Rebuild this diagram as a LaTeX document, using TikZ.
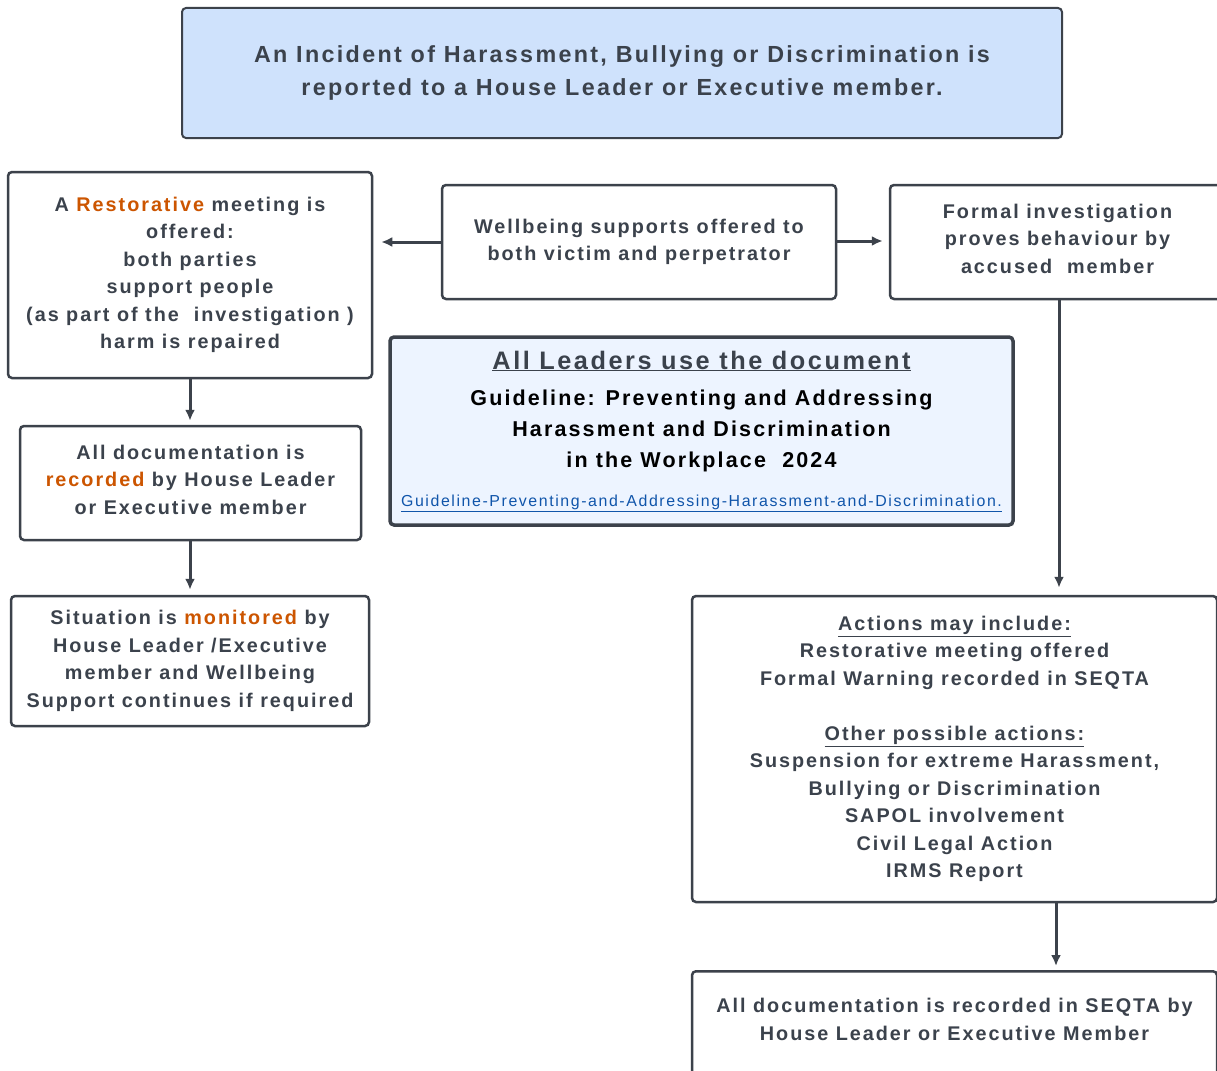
\documentclass[tikz,border=0pt]{standalone}
\usepackage{fontspec}
\setmainfont[LetterSpace=10]{Liberation Sans}
\usetikzlibrary{arrows.meta}
\definecolor{txt}{RGB}{59,66,76}
\definecolor{brd}{RGB}{60,66,75}
\definecolor{org}{RGB}{204,85,0}
\definecolor{topfill}{RGB}{207,226,252}
\definecolor{guidefill}{RGB}{237,244,255}
\definecolor{lnk}{RGB}{16,85,170}
\newcommand{\fs}[2]{\fontsize{#1}{#2}\selectfont}
\tikzset{
  box/.style={draw=brd, line width=2.5pt, rounded corners=4pt, fill=white, align=center,
    text=txt, font=\bfseries\fs{19.8}{27.5}, inner sep=2pt},
  conn/.style={draw=brd, line width=3pt, -{Latex[length=11pt,width=10pt]}},
}
\begin{document}
\begin{tikzpicture}[x=1pt,y=-1pt]
\useasboundingbox (0,0) rectangle (1217,1070);
\clip (0,0) rectangle (1217,1070);
\fill[white] (0,0) rectangle (1217,1070);

\node[box, fill=topfill, line width=2pt, minimum width=880, minimum height=130, font=\bfseries\fs{23.3}{33}] (top) at (622,73)
  {An Incident of Harassment, Bullying or Discrimination is\\reported to a House Leader or Executive member.};

\node[box, minimum width=364, minimum height=206] (rest) at (190,275)
  {A \textcolor{org}{Restorative} meeting is\\offered:\\both parties\\support people\\(as part of the \ investigation )\\harm is repaired};

\node[box, minimum width=394, minimum height=114] (well) at (639,242)
  {Wellbeing supports offered to\\both victim and perpetrator};

\node[box, minimum width=335, minimum height=114, text depth=7pt] (formal) at (1057.5,242)
  {Formal investigation\\proves behaviour by\\accused \ member};

\node[box, fill=guidefill, line width=3.5pt, minimum width=623, minimum height=188, text=black, font=\bfseries\fs{21.5}{31}] (guide) at (701.5,431)
  {{\color{txt}\fs{25.3}{31}\underline{All Leaders use the document}}\\[5pt]
   Guideline: Preventing and Addressing\\
   Harassment and Discrimination\\
   in the Workplace \ 2024\\[8pt]
   {\fs{15.9}{31}\mdseries\color{lnk}\underline{Guideline-Preventing-and-Addressing-Harassment-and-Discrimination.}}};

\node[box, minimum width=341, minimum height=114, text depth=7pt] (rec) at (190.5,483)
  {All documentation is\\\textcolor{org}{recorded} by House Leader\\or Executive member};

\node[box, minimum width=358, minimum height=130] (mon) at (190,661)
  {Situation is \textcolor{org}{monitored} by\\House Leader /Executive\\member and Wellbeing\\Support continues if required};

\node[box, minimum width=525, minimum height=306] (act) at (954.5,749)
  {\underline{Actions may include:}\\Restorative meeting offered\\Formal Warning recorded in SEQTA\\[27.5pt]
   \underline{Other possible actions:}\\Suspension for extreme Harassment,\\Bullying or Discrimination\\SAPOL involvement\\Civil Legal Action\\IRMS Report};

\node[box, minimum width=525, minimum height=130, anchor=north] (bot) at (954.5,970) {};
\node[align=center, text=txt, font=\bfseries\fs{19.8}{27.5}, inner sep=0pt] (bottxt) at (954.5,1019.5)
  {All documentation is recorded in SEQTA by\\House Leader or Executive Member};

\draw[conn, shorten >=8pt] (well.west) -- (rest.east |- well.west);
\draw[conn, shorten >=6pt] (well.east |- 0,241) -- (formal.west |- 0,241);
\draw[conn, shorten >=7pt] (formal.south -| 1059,0) -- (act.north -| 1059,0);
\draw[conn, shorten >=4pt] (rest.south) -- (rec.north -| rest.south);
\draw[conn, shorten >=5pt] (rec.south -| rest.south) -- (mon.north -| rest.south);
\draw[conn, shorten >=4pt] (act.south -| 1056,0) -- (bot.north -| 1056,0);
\end{tikzpicture}
\end{document}
